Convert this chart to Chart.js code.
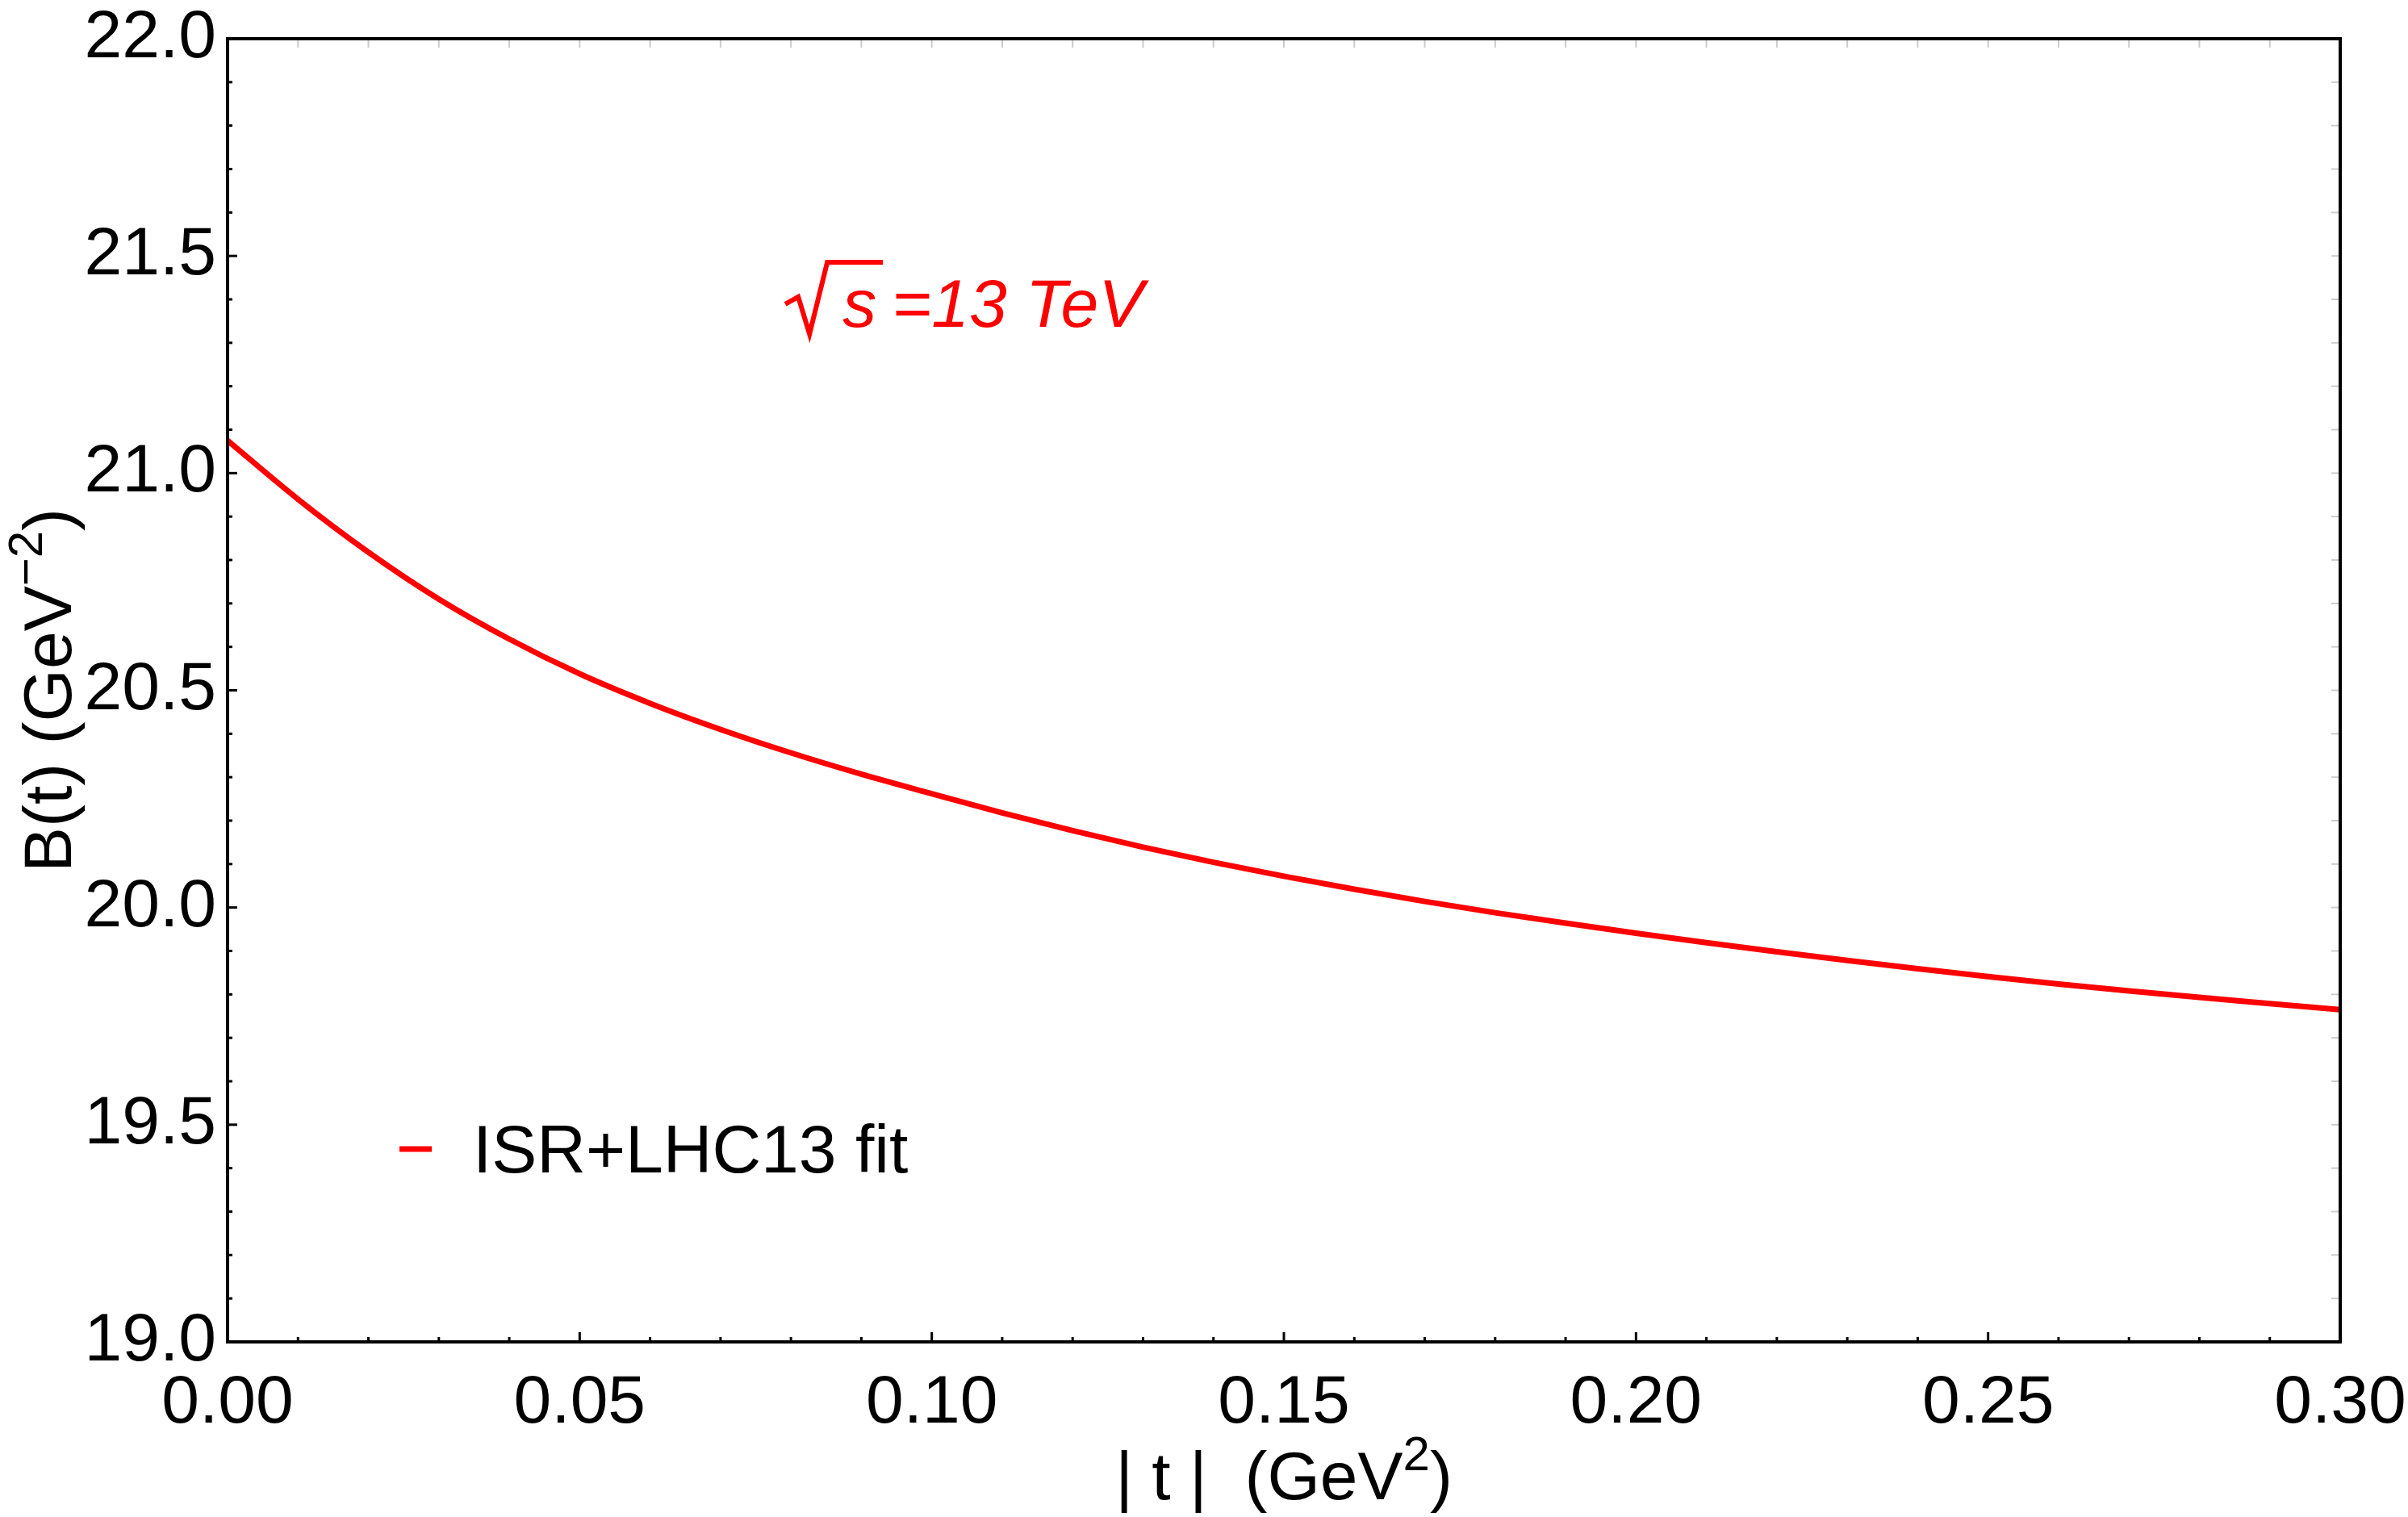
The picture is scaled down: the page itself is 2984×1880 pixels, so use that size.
<!DOCTYPE html>
<html lang="en">
<head>
    <meta charset="UTF-8">
    <title>B(t) slope</title>
    <script src="https://cdn.jsdelivr.net/npm/chart.js@4.4.1/dist/chart.umd.min.js"></script>
    <style>
        html, body { margin: 0; padding: 0; background: #fff; }
        #chart { display: block; }
    </style>
</head>
<body>
    <canvas id="chart" width="2984" height="1880"></canvas>

    <script>
        // |t| in GeV^2, every 0.01
        const tValues = [0.00, 0.01, 0.02, 0.03, 0.04, 0.05, 0.06, 0.07, 0.08, 0.09,
                         0.10, 0.11, 0.12, 0.13, 0.14, 0.15, 0.16, 0.17, 0.18, 0.19,
                         0.20, 0.21, 0.22, 0.23, 0.24, 0.25, 0.26, 0.27, 0.28, 0.29, 0.30];
        // B(t) in GeV^-2
        const bValues = [21.075, 20.940, 20.818, 20.710, 20.618, 20.538, 20.470, 20.410, 20.356, 20.307,
                         20.262, 20.218, 20.177, 20.139, 20.104, 20.072, 20.042, 20.014, 19.988, 19.964,
                         19.941, 19.919, 19.898, 19.878, 19.859, 19.841, 19.824, 19.808, 19.793, 19.779, 19.765];

        const seriesLabel = 'ISR+LHC13 fit';
        const energyText = '=13 TeV';
        const xRange = [0, 0.30];
        const yRange = [19.0, 22.0];
        const xMajorStep = 0.05, xMinorStep = 0.01;
        const yMajorStep = 0.5, yMinorStep = 0.1;
        // axis titles as [text, isSuperscript] pieces
        const xTitleParts = [['| t |  (GeV', false], ['2', true], [')', false]];
        const yTitleParts = [['B(t) (GeV', false], ['\u22122', true], [')', false]];

        const FONT = '"Liberation Sans", Arial, Helvetica, sans-serif';
        const RED = '#ff0000';

        function isMultiple(v, step) {
            const r = v / step;
            return Math.abs(r - Math.round(r)) < 1e-6;
        }

        function richWidth(ctx, parts) {
            let w = 0;
            parts.forEach(([txt, sup]) => {
                ctx.font = (sup ? 60 : 84) + 'px ' + FONT;
                w += ctx.measureText(txt).width;
            });
            return w;
        }

        function drawRich(ctx, parts, x, y) {
            parts.forEach(([txt, sup]) => {
                ctx.font = (sup ? 60 : 84) + 'px ' + FONT;
                ctx.fillText(txt, x, sup ? y - 36 : y);
                x += ctx.measureText(txt).width;
            });
        }

        function line(ctx, x1, y1, x2, y2) {
            ctx.beginPath();
            ctx.moveTo(x1, y1);
            ctx.lineTo(x2, y2);
            ctx.stroke();
        }

        // frame plus inward tick marks (black on bottom/left, light grey on top/right)
        const frameTicks = {
            id: 'frameTicks',
            afterDatasetsDraw(chart) {
                const { ctx, chartArea: a, scales: { x, y } } = chart;
                ctx.save();
                ctx.lineCap = 'butt';
                x.ticks.forEach(t => {
                    const px = x.getPixelForValue(t.value);
                    const major = isMultiple(t.value, xMajorStep);
                    ctx.lineWidth = 3;
                    ctx.strokeStyle = '#000';
                    line(ctx, px, a.bottom, px, a.bottom - (major ? 12 : 6));
                    ctx.lineWidth = 2;
                    ctx.strokeStyle = '#cccccc';
                    line(ctx, px, a.top, px, a.top + 11);
                });
                y.ticks.forEach(t => {
                    const py = y.getPixelForValue(t.value);
                    const major = isMultiple(t.value, yMajorStep);
                    ctx.lineWidth = 3;
                    ctx.strokeStyle = '#000';
                    line(ctx, a.left, py, a.left + (major ? 12 : 6), py);
                    ctx.lineWidth = 2;
                    ctx.strokeStyle = '#cccccc';
                    line(ctx, a.right, py, a.right - 11, py);
                });
                ctx.lineWidth = 4;
                ctx.strokeStyle = '#000';
                ctx.strokeRect(a.left, a.top, a.right - a.left, a.bottom - a.top);
                ctx.restore();
            }
        };

        // axis titles with superscripts
        const axisTitles = {
            id: 'axisTitles',
            afterDraw(chart) {
                const { ctx, chartArea: a } = chart;
                ctx.save();
                ctx.fillStyle = '#000';
                ctx.textBaseline = 'alphabetic';
                ctx.textAlign = 'left';
                const cx = (a.left + a.right) / 2;
                let w = richWidth(ctx, xTitleParts);
                drawRich(ctx, xTitleParts, cx - w / 2, 1858);

                const cy = (a.top + a.bottom) / 2;
                ctx.translate(88, cy);
                ctx.rotate(-Math.PI / 2);
                w = richWidth(ctx, yTitleParts);
                drawRich(ctx, yTitleParts, -w / 2, 0);
                ctx.restore();
            }
        };

        // legend entry and sqrt(s) label inside the frame
        const insideLabels = {
            id: 'insideLabels',
            afterDraw(chart) {
                const { ctx, chartArea: a, scales: { x, y } } = chart;
                const ds = chart.data.datasets[0];
                ctx.save();

                // legend
                ctx.strokeStyle = ds.borderColor;
                ctx.lineWidth = 7;
                line(ctx, a.left + 213, 1424, a.left + 253, 1424);
                ctx.fillStyle = '#000';
                ctx.font = '84px ' + FONT;
                ctx.textBaseline = 'alphabetic';
                ctx.fillText(ds.label, a.left + 304, 1453);

                // sqrt(s) = 13 TeV
                const x0 = x.getPixelForValue(0.0792);
                const y0 = y.getPixelForValue(21.337);
                ctx.strokeStyle = RED;
                ctx.fillStyle = RED;
                ctx.lineWidth = 6;
                ctx.lineJoin = 'miter';
                ctx.beginPath();
                ctx.moveTo(x0, y0 - 28);
                ctx.lineTo(x0 + 16, y0 - 37);
                ctx.lineTo(x0 + 30, y0 + 9);
                ctx.lineTo(x0 + 52, y0 - 80);
                ctx.lineTo(x0 + 121, y0 - 80);
                ctx.stroke();
                ctx.font = 'italic 84px ' + FONT;
                ctx.fillText('s', x0 + 71, y0);
                ctx.fillText(energyText, x0 + 132, y0);
                ctx.restore();
            }
        };

        const config = {
            type: 'line',
            data: {
                datasets: [{
                    label: seriesLabel,
                    data: tValues.map((t, i) => ({ x: t, y: bValues[i] })),
                    borderColor: RED,
                    borderWidth: 7,
                    pointRadius: 0,
                    fill: false,
                    cubicInterpolationMode: 'monotone'
                }]
            },
            options: {
                responsive: false,
                animation: false,
                layout: { padding: { top: 48, right: 84, left: 0, bottom: 0 } },
                plugins: {
                    legend: { display: false },
                    tooltip: { enabled: false }
                },
                scales: {
                    x: {
                        type: 'linear',
                        min: xRange[0],
                        max: xRange[1],
                        border: { display: false },
                        grid: { display: false, drawTicks: false },
                        ticks: {
                            stepSize: xMinorStep,
                            maxTicksLimit: 100,
                            autoSkip: false,
                            maxRotation: 0,
                            padding: 26,
                            color: '#000',
                            font: { family: FONT, size: 84 },
                            callback: v => isMultiple(v, xMajorStep) ? v.toFixed(2) : ''
                        },
                        afterFit: s => { s.height = 217; s.paddingLeft = 0; s.paddingRight = 0; }
                    },
                    y: {
                        type: 'linear',
                        min: yRange[0],
                        max: yRange[1],
                        border: { display: false },
                        grid: { display: false, drawTicks: false },
                        ticks: {
                            stepSize: yMinorStep,
                            maxTicksLimit: 100,
                            autoSkip: false,
                            padding: 14,
                            color: '#000',
                            font: { family: FONT, size: 84 },
                            callback: v => isMultiple(v, yMajorStep) ? v.toFixed(1) : ''
                        },
                        afterFit: s => { s.width = 282; s.paddingTop = 0; s.paddingBottom = 0; }
                    }
                }
            },
            plugins: [frameTicks, axisTitles, insideLabels]
        };

        new Chart(document.getElementById('chart'), config);
    </script>
</body>
</html>
